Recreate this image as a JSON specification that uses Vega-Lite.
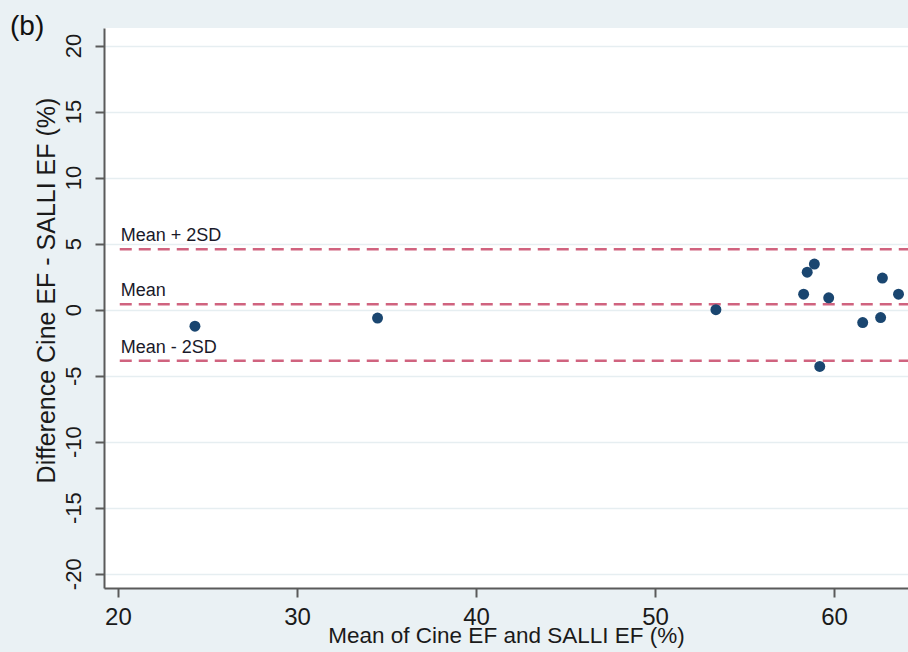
{
  "$schema": "https://vega.github.io/schema/vega-lite/v6.json",
  "width": 804,
  "height": 560,
  "autosize": {"type": "none"},
  "padding": {"left": 104, "top": 28, "right": 0, "bottom": 64},
  "background": "#eaf1f4",
  "title": {"text": "(b)", "anchor": "start", "frame": "group", "dx": -94, "offset": -7, "dy": 28, "baseline": "alphabetic", "font": "Liberation Sans", "fontSize": 28, "fontWeight": "normal", "color": "#111111"},
  "config": {
    "view": {"fill": "white", "stroke": null},
    "axis": {
      "domainColor": "#5a5a5a", "domainWidth": 2, "tickColor": "#5a5a5a", "tickWidth": 2, "tickSize": 9,
      "labelFont": "Liberation Sans", "labelColor": "#1a1a1a", "titleFont": "Liberation Sans", "titleColor": "#1a1a1a", "titleFontWeight": "normal",
      "labelExpr": "'' + datum.value"
    }
  },
  "datasets": {
    "points": [
      {"mean": 24.3, "diff": -1.25},
      {"mean": 34.5, "diff": -0.64},
      {"mean": 53.4, "diff": 0.0},
      {"mean": 58.3, "diff": 1.17},
      {"mean": 58.5, "diff": 2.84},
      {"mean": 58.9, "diff": 3.45},
      {"mean": 59.7, "diff": 0.9},
      {"mean": 59.2, "diff": -4.3},
      {"mean": 61.6, "diff": -0.98},
      {"mean": 62.6, "diff": -0.6},
      {"mean": 62.7, "diff": 2.39},
      {"mean": 63.6, "diff": 1.17}
    ],
    "lines": [
      {"label": "Mean + 2SD", "value": 4.58},
      {"label": "Mean", "value": 0.4},
      {"label": "Mean - 2SD", "value": -3.87}
    ]
  },
  "layer": [
    {
      "data": {"name": "lines"},
      "mark": {"type": "rule", "color": "#d0637f", "strokeWidth": 2.5, "strokeDash": [12, 7]},
      "encoding": {
        "x": {"datum": 20.1, "type": "quantitative"},
        "x2": {"datum": 64.13},
        "y": {"field": "value", "type": "quantitative"}
      }
    },
    {
      "data": {"name": "lines"},
      "mark": {"type": "text", "align": "left", "baseline": "alphabetic", "dy": -8, "font": "Liberation Sans", "fontSize": 18, "color": "#1a1a2a"},
      "encoding": {
        "x": {"datum": 20.15, "type": "quantitative"},
        "y": {"field": "value", "type": "quantitative"},
        "text": {"field": "label"}
      }
    },
    {
      "data": {"name": "points"},
      "mark": {"type": "circle", "size": 120, "color": "#1a4670", "opacity": 1},
      "encoding": {
        "x": {
          "field": "mean", "type": "quantitative",
          "scale": {"domain": [19.22, 64.13], "nice": false, "zero": false},
          "axis": {"values": [20, 30, 40, 50, 60], "grid": false, "labelFontSize": 24, "labelPadding": 8, "title": "Mean of Cine EF and SALLI EF (%)", "titleFontSize": 22.5, "titlePadding": -5}
        },
        "y": {
          "field": "diff", "type": "quantitative",
          "scale": {"domain": [-21.08, 21.33], "nice": false, "zero": false},
          "axis": {"values": [-20, -15, -10, -5, 0, 5, 10, 15, 20], "grid": true, "gridColor": "#e6eef1", "gridWidth": 1.5, "labelAngle": -90, "labelFontSize": 22, "labelPadding": 10, "title": "Difference Cine EF - SALLI EF (%)", "titleFontSize": 25, "titlePadding": 3, "titleY": 262}
        }
      }
    }
  ]
}
